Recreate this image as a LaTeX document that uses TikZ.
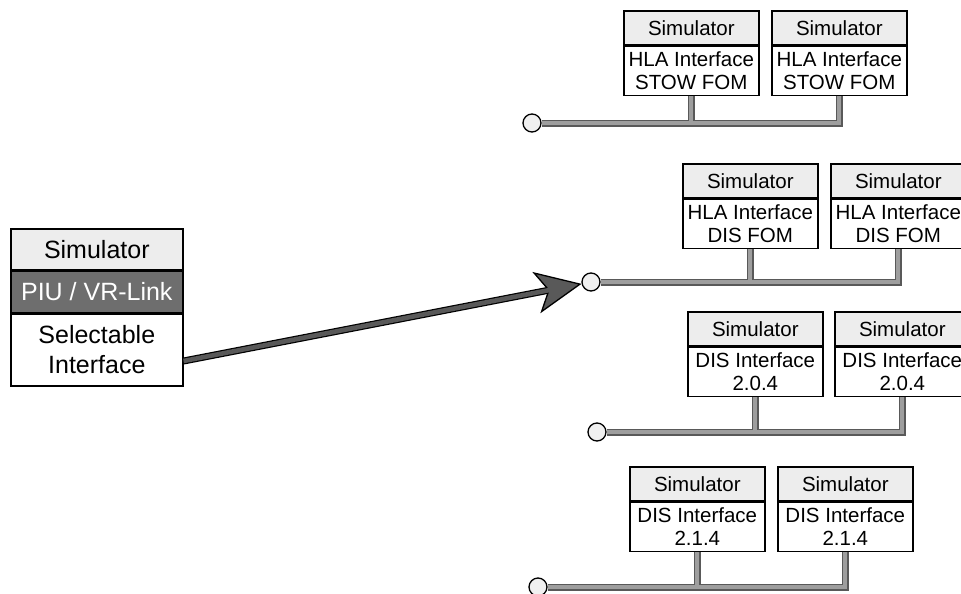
\documentclass[tikz,border=0pt]{standalone}
\usepackage{fontspec}
\setmainfont{Liberation Sans}
\usetikzlibrary{positioning,calc,arrows.meta}

\begin{document}
\begin{tikzpicture}[x=1pt,y=-1pt,
  simhead/.style={draw,line width=1.6pt,fill=black!7,minimum width=135pt,minimum height=34pt,inner sep=1pt,anchor=north west,font=\fontsize{20.5}{23}\selectfont},
  simbody/.style={draw,line width=1.6pt,fill=white,minimum width=135pt,minimum height=49pt,inner sep=1pt,align=center,font=\fontsize{20.5}{23}\selectfont},
  bigtext/.style={minimum width=172pt,font=\fontsize{25}{30}\selectfont},
  term/.style={circle,draw,line width=1.3pt,fill=black!6,minimum size=18pt,inner sep=0pt},
  busedge/.style={line width=7pt,draw=black!65},
  busfill/.style={line width=4.2pt,draw=black!38}]
\useasboundingbox (0,0) rectangle (961,594);

% selectable simulator
\node[simhead,bigtext,minimum height=41pt] (sim) at (10,228) {Simulator};
\node[simbody,bigtext,minimum height=41pt,fill=black!57,text=white,below=0pt of sim] (piu) {PIU / VR-Link};
\node[simbody,bigtext,minimum height=72pt,below=0pt of piu] (sel) {Selectable\\Interface};

% HLA, STOW FOM
\node[simhead] (s1a) at (623,10) {Simulator};
\node[simbody,below=0pt of s1a] (f1a) {HLA Interface\\STOW FOM};
\node[simhead] (s1b) at (771,10) {Simulator};
\node[simbody,below=0pt of s1b] (f1b) {HLA Interface\\STOW FOM};
\node[term] (t1) at (532,123) {};

% HLA, DIS FOM
\node[simhead] (s2a) at (682,163) {Simulator};
\node[simbody,below=0pt of s2a] (f2a) {HLA Interface\\DIS FOM};
\node[simhead] (s2b) at (830,163) {Simulator};
\node[simbody,below=0pt of s2b] (f2b) {HLA Interface\\DIS FOM};
\node[term] (t2) at (591,282) {};

% DIS 2.0.4
\node[simhead] (s3a) at (687,311) {Simulator};
\node[simbody,below=0pt of s3a] (f3a) {DIS Interface\\2.0.4};
\node[simhead] (s3b) at (834,311) {Simulator};
\node[simbody,below=0pt of s3b] (f3b) {DIS Interface\\2.0.4};
\node[term] (t3) at (597,432) {};

% DIS 2.1.4
\node[simhead] (s4a) at (629,466) {Simulator};
\node[simbody,below=0pt of s4a] (f4a) {DIS Interface\\2.1.4};
\node[simhead] (s4b) at (777,466) {Simulator};
\node[simbody,below=0pt of s4b] (f4b) {DIS Interface\\2.1.4};
\node[term] (t4) at (538,587) {};

% buses
\foreach \st in {busedge,busfill}{
  \draw[\st] (t1) -| (f1b.south) (f1a.south) -- (f1a.south |- t1);
  \draw[\st] (t2) -| (f2b.south) (f2a.south) -- (f2a.south |- t2);
  \draw[\st] (t3) -| (f3b.south) (f3a.south) -- (f3a.south |- t3);
  \draw[\st] (t4) -| (f4b.south) (f4a.south) -- (f4a.south |- t4);
}

% selection arrow
\coordinate (from) at ($(sel.east)+(0,11)$);
\draw[line width=7pt,black,-{Stealth[length=46pt,width=42pt,inset=12pt,line width=1.3pt,fill=black!65]}] (from) -- (t2);
\draw[line width=4.6pt,black!65,shorten >=22pt] (from) -- (t2);
\end{tikzpicture}
\end{document}
